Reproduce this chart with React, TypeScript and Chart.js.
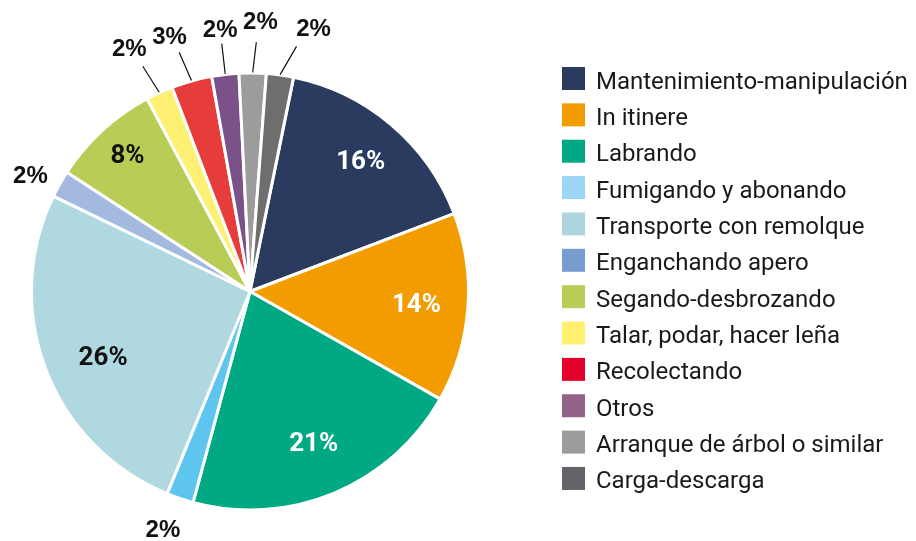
import React, { useEffect, useRef } from "react";
import { Chart, registerables } from "chart.js";

Chart.register(...registerables);

const categories = [
  "Mantenimiento-manipulación",
  "In itinere",
  "Labrando",
  "Fumigando y abonando",
  "Transporte con remolque",
  "Enganchando apero",
  "Segando-desbrozando",
  "Talar, podar, hacer leña",
  "Recolectando",
  "Otros",
  "Arranque de árbol o similar",
  "Carga-descarga",
];

const values = [16, 14, 21, 2, 26, 2, 8, 2, 3, 2, 2, 2];

const sliceColors = [
  "#2A3B5F", "#F39C00", "#00A884", "#5EC5EF", "#B0D8E1", "#A3B9DE",
  "#B8CD55", "#FDF073", "#E73D3A", "#7A5289", "#9C9C9C", "#6E6E6E",
];

const legendColors = [
  "#2A3B5F", "#F39C00", "#00A884", "#9BD7F4", "#ADD6DF", "#789CD0",
  "#B8CD55", "#FFF06E", "#E4002B", "#936389", "#9C9C9C", "#636469",
];

const labelTextColors = [
  "#FFFFFF", "#FFFFFF", "#FFFFFF", "#111111", "#111111", "#111111",
  "#111111", "#111111", "#111111", "#111111", "#111111", "#111111",
];

// inside label placement: index -> angle shift (deg), radius as fraction of outer radius
const insideLabels: Record<number, { da: number; f: number }> = {
  0: { da: 0, f: 0.783 },
  1: { da: 0, f: 0.764 },
  2: { da: 0, f: 0.755 },
  4: { da: -3.3, f: 0.737 },
  6: { da: 0.5, f: 0.838 },
};

// outside label placement: index -> angle shift (deg), extra radius beyond edge, leader line
const outsideLabels: Record<number, { da: number; dr: number; leader: boolean }> = {
  3: { da: 1.4, dr: 35, leader: false },
  5: { da: -1.6, dr: 30, leader: false },
  7: { da: -1.9, dr: 53, leader: true },
  8: { da: -2.0, dr: 49, leader: true },
  9: { da: 0.0, dr: 45, leader: true },
  10: { da: 1.5, dr: 52, leader: true },
  11: { da: 5.7, dr: 52, leader: true },
};

const labelPlugin = {
  id: "pieLabels",
  afterDatasetsDraw(chart: any) {
    const ctx = chart.ctx;
    const meta = chart.getDatasetMeta(0);
    const data = chart.data.datasets[0].data as number[];
    const total = data.reduce((a, b) => a + b, 0);
    ctx.save();
    meta.data.forEach((arc: any, i: number) => {
      const { x, y, startAngle, endAngle, outerRadius } = arc.getProps(
        ["x", "y", "startAngle", "endAngle", "outerRadius"],
        true
      );
      const mid = (startAngle + endAngle) / 2;
      const txt = Math.round((data[i] / total) * 100) + "%";
      const out = outsideLabels[i];
      ctx.textAlign = "center";
      ctx.textBaseline = "middle";
      if (!out) {
        const ins = insideLabels[i] || { da: 0, f: 0.775 };
        const a = mid + (ins.da * Math.PI) / 180;
        const r = outerRadius * ins.f;
        ctx.font = "bold 26px Roboto";
        ctx.fillStyle = labelTextColors[i];
        ctx.fillText(txt, x + Math.cos(a) * r, y + Math.sin(a) * r + 1);
      } else {
        const la = mid + (out.da * Math.PI) / 180;
        const lr = outerRadius + out.dr;
        const lx = x + Math.cos(la) * lr;
        const ly = y + Math.sin(la) * lr;
        if (out.leader) {
          const a1 = mid + ((out.da * 0.5) * Math.PI) / 180;
          ctx.beginPath();
          ctx.moveTo(x + Math.cos(mid) * (outerRadius + 0.5), y + Math.sin(mid) * (outerRadius + 0.5));
          ctx.lineTo(x + Math.cos(a1) * (outerRadius + 31), y + Math.sin(a1) * (outerRadius + 31));
          ctx.strokeStyle = "#111111";
          ctx.lineWidth = 1.2;
          ctx.stroke();
        }
        ctx.font = "bold 24px 'Liberation Sans', Arial, sans-serif";
        ctx.fillStyle = "#111111";
        ctx.fillText(txt, lx, ly + 1);
      }
    });
    ctx.restore();
  },
  afterDraw(chart: any) {
    const ctx = chart.ctx;
    const labels = chart.data.labels as string[];
    const boxX = 562;
    const top = 78.5;
    const step = 36.36;
    ctx.save();
    labels.forEach((lab, i) => {
      const cy = top + i * step;
      ctx.fillStyle = legendColors[i];
      ctx.fillRect(boxX, cy - 11.5, 23, 23);
      ctx.fillStyle = "#1A1A1A";
      ctx.font = "24px Roboto";
      ctx.textAlign = "left";
      ctx.textBaseline = "alphabetic";
      ctx.fillText(lab, boxX + 34, cy + 10);
    });
    ctx.restore();
  },
};

export default function App() {
  const ref = useRef<HTMLCanvasElement | null>(null);
  useEffect(() => {
    if (!ref.current) return;
    const chart = new Chart(ref.current, {
      type: "pie",
      data: {
        labels: categories,
        datasets: [
          {
            data: values,
            backgroundColor: sliceColors,
            borderColor: "#FFFFFF",
            borderWidth: 3,
          },
        ],
      },
      options: {
        animation: false,
        responsive: true,
        maintainAspectRatio: false,
        rotation: 11.5,
        radius: 218.5,
        layout: { padding: { left: 0, right: 416, top: 42, bottom: 0 } },
        plugins: {
          legend: { display: false },
          tooltip: { enabled: false },
        },
      } as any,
      plugins: [labelPlugin],
    });
    return () => chart.destroy();
  }, []);
  return (
    <div
      style={{
        position: "fixed",
        left: 0,
        top: 0,
        width: 916,
        height: 541,
        background: "#FFFFFF",
      }}
    >
      <canvas ref={ref} />
    </div>
  );
}
